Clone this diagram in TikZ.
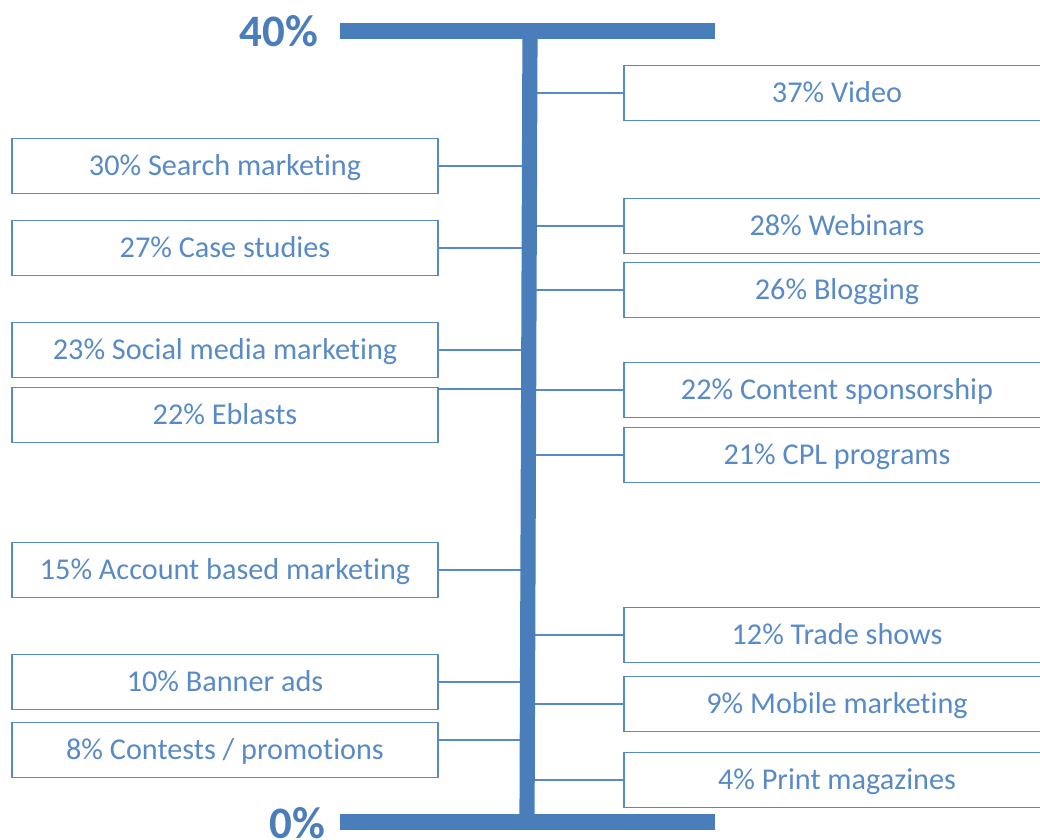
\documentclass[tikz,border=0pt]{standalone}
\usepackage{fontspec}
\setmainfont[Ligatures=NoCommon]{Carlito}
\definecolor{barblue}{RGB}{74,126,187}
\definecolor{boxblue}{RGB}{88,138,199}

\begin{document}
\begin{tikzpicture}[x=0.025cm, y=-0.025cm,
	box/.style={draw=boxblue, line width=1.4pt, text=boxblue, font=\fontsize{21.5}{24}\selectfont,
		minimum width=10.65cm, minimum height=1.375cm, inner sep=0pt, text height=13.8pt, text depth=0pt},
	link/.style={draw=boxblue, line width=1.3pt},
	bar/.style={draw=barblue, line width=10.8pt},
	endlabel/.style={text=barblue, font=\fontsize{32}{36}\selectfont\bfseries, inner sep=0pt}]
	\useasboundingbox (0,0) rectangle (1040,840);
	\clip (0,0) rectangle (1040,840);
	
	\coordinate (top) at (530,31);
	\coordinate (bot) at (527,822);
	\coordinate (topl) at (340,31);
	\coordinate (topr) at (715,31);
	\coordinate (botl) at (340,822);
	\coordinate (botr) at (715,822);
	
	\node[endlabel] (max) at (279,31) {40\%};
	\node[endlabel] (min) at (297,823) {0\%};
	
	% left side
	\node[box] (search) at (225,166) {30\% Search marketing};
	\node[box] (cases) at (225,248) {27\% Case studies};
	\node[box] (social) at (225,350) {23\% Social media marketing};
	\node[box] (eblasts) at (225,415) {22\% Eblasts};
	\node[box] (account) at (225,570) {15\% Account based marketing};
	\node[box] (banner) at (225,682) {10\% Banner ads};
	\node[box] (contests) at (225,750) {8\% Contests / promotions};
	
	% right side
	\node[box] (video) at (837,93) {37\% Video};
	\node[box] (webinars) at (837,226) {28\% Webinars};
	\node[box] (blogging) at (837,290) {26\% Blogging};
	\node[box] (sponsor) at (837,390) {22\% Content sponsorship};
	\node[box] (cpl) at (837,455) {21\% CPL programs};
	\node[box] (trade) at (837,635) {12\% Trade shows};
	\node[box] (mobile) at (837,704) {9\% Mobile marketing};
	\node[box] (print) at (837,780) {4\% Print magazines};
	
	\draw[link] (search.east) -- (search.east -| top);
	\draw[link] (cases.east) -- (cases.east -| top);
	\draw[link] (social.east) -- (social.east -| top);
	\draw[link] ([yshift=-2pt]eblasts.north east) -- ([yshift=-2pt]eblasts.north east -| top);
	\draw[link] (account.east) -- (account.east -| top);
	\draw[link] (banner.east) -- (banner.east -| top);
	\draw[link] ([yshift=7pt]contests.east) -- ([yshift=7pt]contests.east -| top);
	
	\draw[link] (video.west -| top) -- (video.west);
	\draw[link] (webinars.west -| top) -- (webinars.west);
	\draw[link] (blogging.west -| top) -- (blogging.west);
	\draw[link] (sponsor.west -| top) -- (sponsor.west);
	\draw[link] (cpl.west -| top) -- (cpl.west);
	\draw[link] (trade.west -| top) -- (trade.west);
	\draw[link] (mobile.west -| top) -- (mobile.west);
	\draw[link] (print.west -| top) -- (print.west);
	
	\draw[bar] (top) -- (bot);
	\draw[bar] (topl) -- (topr);
	\draw[bar] (botl) -- (botr);
\end{tikzpicture}
\end{document}
